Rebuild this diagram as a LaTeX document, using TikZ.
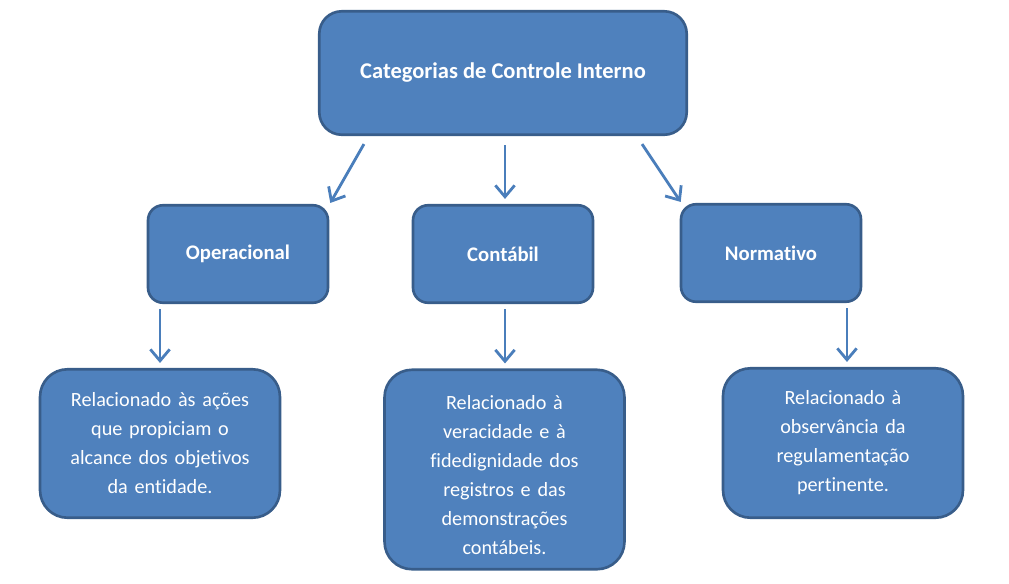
\documentclass[tikz,border=0pt]{standalone}
\usepackage{fontspec}
\setmainfont{Carlito}[Ligatures=NoCommon]
\usepackage{tikz}
\usepackage{xcolor}
\usetikzlibrary{positioning, arrows.meta}
\definecolor{boxfill}{HTML}{4F81BD}
\definecolor{boxline}{HTML}{385D8A}
\definecolor{arrowblue}{HTML}{4A7EBB}

\begin{document}
\begin{tikzpicture}[x=0.02cm, y=-0.02cm,
    every node/.style={font=\fontsize{11.5}{16.5}\selectfont, text=white, align=center},
    catbox/.style={draw=boxline, fill=boxfill, line width=1.5pt, rounded corners=0.3cm},
    topbox/.style={catbox, rounded corners=0.45cm, minimum width=7.35cm, minimum height=2.47cm, font=\fontsize{12.8}{16.5}\selectfont\bfseries},
    midbox/.style={catbox, minimum width=3.6cm, minimum height=1.95cm, font=\fontsize{11.8}{16.5}\selectfont\bfseries},
    descbox/.style={catbox, rounded corners=0.55cm, minimum width=4.8cm, text width=4.1cm},
    arr/.style={draw=arrowblue, line width=1.6pt, -{Straight Barb[length=6.5pt, width=11pt]}}]
     \useasboundingbox (0,0) rectangle (1009,583);
     % first level
     \node[topbox] (cat) at (503,73) {Categorias de Controle Interno};
     % second level
     \node[midbox] (oper) at (238,254) {Operacional};
     \node[midbox] (cont) at (503,254) {Contábil};
     \node[midbox] (norm) at (771,253) {Normativo};
     % descriptions
     \node[descbox, minimum height=2.97cm] (operdesc) at (160,443.5)
     {Relacionado às ações\\que propiciam o\\alcance dos objetivos\\da entidade.};
     \node[descbox, minimum height=3.99cm] (contdesc) at (504.5,469.5)
     {\rule{0pt}{14pt}Relacionado à\\veracidade e à\\fidedignidade dos\\registros e das\\demonstrações\\contábeis.};
     \node[descbox, minimum height=2.99cm] (normdesc) at (843,443)
     {Relacionado à\\observância da\\regulamentação\\pertinente.};
     % arrows
     \draw[arr] ([xshift=0.92cm, yshift=-0.16cm]cat.south west) -- ([xshift=0.02cm, yshift=0.02cm]oper.north east);
     \draw[arr] ([xshift=0.04cm, yshift=-0.18cm]cat.south) -- ([xshift=0.04cm, yshift=0.1cm]cont.north);
     \draw[arr] ([xshift=-0.92cm, yshift=-0.16cm]cat.south east) -- ([xshift=0.02cm, yshift=0.02cm]norm.north west);
     \draw[arr] ([xshift=-1.56cm, yshift=-0.1cm]oper.south) -- ([xshift=-1.56cm, yshift=0.1cm]oper.south |- operdesc.north);
     \draw[arr] ([xshift=0.04cm, yshift=-0.1cm]cont.south) -- ([xshift=0.04cm, yshift=0.1cm]cont.south |- contdesc.north);
     \draw[arr] ([xshift=1.52cm, yshift=-0.1cm]norm.south) -- ([xshift=1.52cm, yshift=0.1cm]norm.south |- normdesc.north);
\end{tikzpicture}
\end{document}
